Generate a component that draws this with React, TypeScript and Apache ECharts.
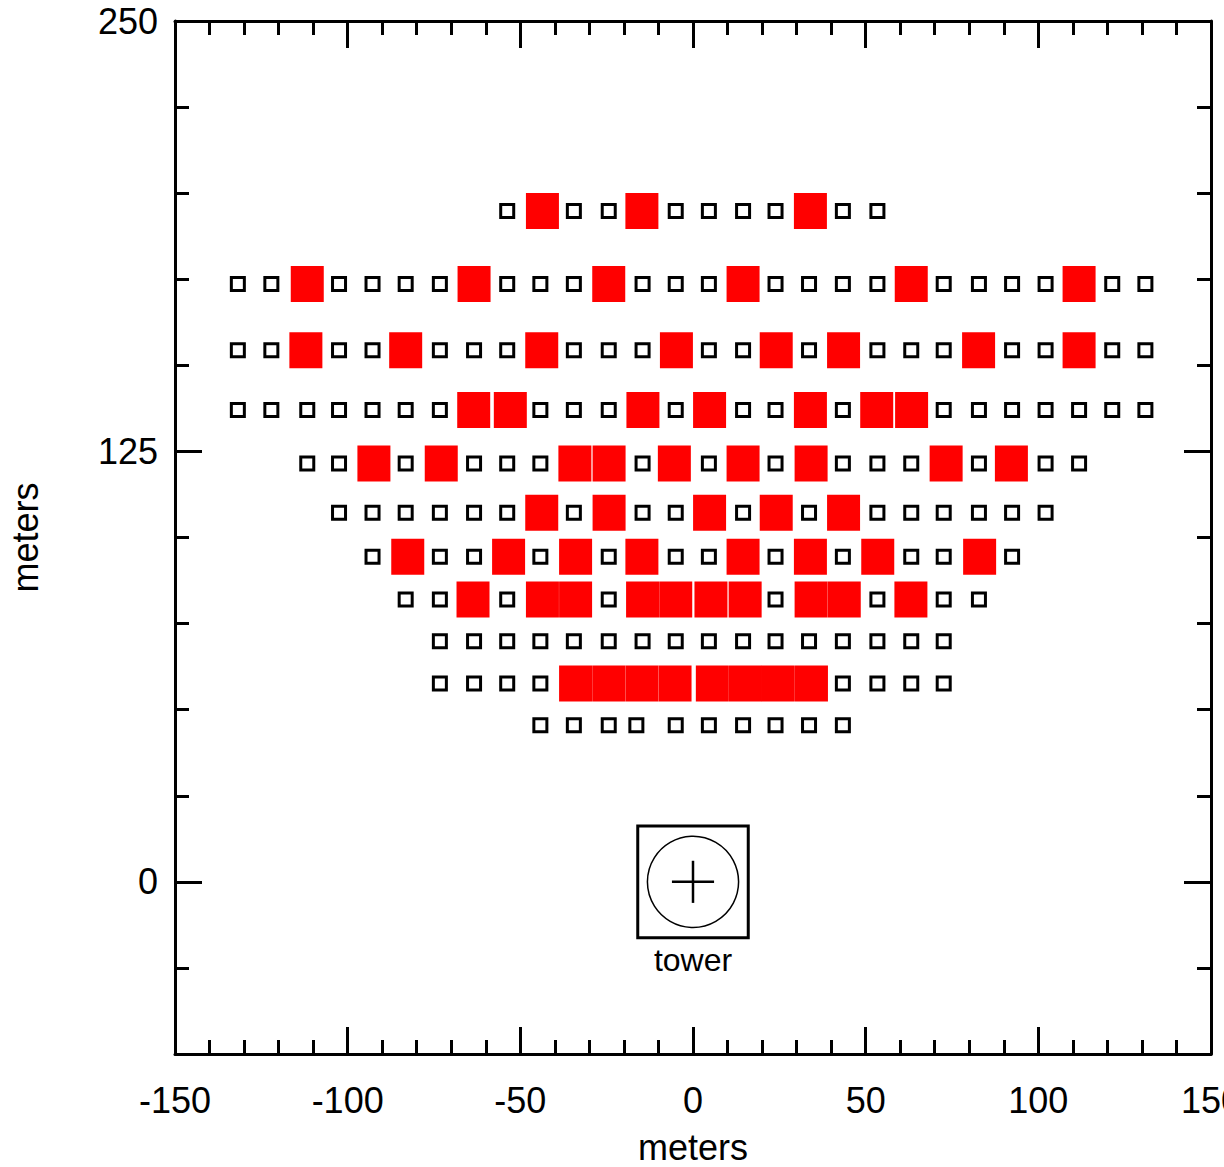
import { useEffect, useRef } from "react";
import * as echarts from "echarts";

// North distance of each heliostat row from the tower base (m)
const ROW_Y = [194.8, 173.6, 154.4, 137.0, 121.5, 107.2, 94.4, 82.0, 69.9, 57.6, 45.5];

// East-west positions (m) of heliostats that are idle, one list per row
const IDLE_X: number[][] = [
  [-53.8, -34.5, -24.4, -5.0, 4.6, 14.5, 23.9, 43.4, 53.4],
  [-131.8, -122.1, -102.5, -92.8, -83.2, -73.3, -53.8, -44.2, -34.5, -14.6, -5.0, 4.6, 23.9, 33.6, 43.4, 53.4, 72.6, 82.8, 92.4, 102.1, 121.4, 131.0],
  [-131.8, -122.1, -102.5, -92.8, -73.3, -63.4, -53.8, -34.5, -24.4, -14.6, 4.6, 14.5, 33.6, 53.4, 63.2, 72.6, 92.4, 102.1, 121.4, 131.0],
  [-131.8, -122.1, -111.7, -102.5, -92.8, -83.2, -73.3, -44.2, -34.5, -24.4, -5.0, 14.5, 23.9, 43.4, 72.6, 82.8, 92.4, 102.1, 111.8, 121.4, 131.0],
  [-111.7, -102.5, -83.2, -63.4, -53.8, -44.2, -14.6, 4.6, 23.9, 43.4, 53.4, 63.2, 82.8, 102.1, 111.8],
  [-102.5, -92.8, -83.2, -73.3, -63.4, -53.8, -34.5, -14.6, -5.0, 14.5, 33.6, 53.4, 63.2, 72.6, 82.8, 92.4, 102.1],
  [-92.8, -73.3, -63.4, -44.2, -24.4, -5.0, 4.6, 23.9, 43.4, 63.2, 72.6, 92.4],
  [-83.2, -73.3, -53.8, -24.4, 23.9, 53.4, 72.6, 82.8],
  [-73.3, -63.4, -53.8, -44.2, -34.5, -24.4, -14.6, -5.0, 4.6, 14.5, 23.9, 33.6, 43.4, 53.4, 63.2, 72.6],
  [-73.3, -63.4, -53.8, -44.2, 43.4, 53.4, 63.2, 72.6],
  [-44.2, -34.5, -24.4, -16.4, -5.0, 4.6, 14.5, 23.9, 33.6, 43.4],
];

// East-west positions (m) of heliostats that are in use, one list per row
const ACTIVE_X: number[][] = [
  [-43.6, -14.8, 34.0],
  [-111.7, -63.4, -24.4, 14.5, 63.2, 111.8],
  [-112.1, -83.2, -43.8, -4.8, 24.1, 43.6, 82.7, 111.8],
  [-63.5, -52.9, -14.5, 4.8, 34.0, 53.2, 63.3],
  [-92.4, -72.9, -34.2, -24.3, -5.4, 14.5, 34.2, 73.3, 92.2],
  [-43.8, -24.3, 4.8, 24.1, 43.6],
  [-82.6, -53.4, -34.0, -14.8, 14.5, 34.0, 53.5, 83.0],
  [-63.7, -43.6, -34.0, -14.6, -5.0, 5.2, 15.1, 34.2, 43.8, 63.1],
  [],
  [-34.0, -24.4, -14.8, -5.2, 5.6, 15.2, 24.7, 34.3],
  [],
];

// Tower: location and footprint (m)
const TOWER_POS = [0, 0];
const TOWER_BOX = [32, 32.5];
const TOWER_RING = 13.2;
const TOWER_CROSS = 6.1;
const TOWER_LABEL = "tower";

// Axis ticks and labels
const X_RANGE = [-150, 150];
const Y_RANGE = [-50, 250];
const Y_LABELS = [0, 125, 250];
const Y_MAJOR_TICKS = [0, 125];
const Y_MINOR_TICKS = [-25, 25, 50, 75, 100, 150, 175, 200, 225];

const FONT = "'Liberation Sans', Arial, Helvetica, sans-serif";
const INK = "#000";

function toPoints(rows: number[][]): number[][] {
  const pts: number[][] = [];
  rows.forEach((xs, i) => xs.forEach((x) => pts.push([x, ROW_Y[i]])));
  return pts;
}

export default function App() {
  const ref = useRef<HTMLDivElement>(null);

  useEffect(() => {
    if (!ref.current) return;
    const chart = echarts.init(ref.current, undefined, { renderer: "svg" });

    const lineStyle = { color: INK, width: 3 };
    const axisLine = { show: true, onZero: false, lineStyle };
    const noLine = { show: false, onZero: false };
    const labelStyle = { color: INK, fontFamily: FONT, fontSize: 36 };

    const xBase: any = {
      type: "value",
      min: X_RANGE[0],
      max: X_RANGE[1],
      interval: 50,
      splitLine: { show: false },
      minorSplitLine: { show: false },
      axisLine,
      axisTick: { show: true, inside: true, length: 27, lineStyle },
      minorTick: { show: true, splitNumber: 5, length: 14, lineStyle },
    };

    const yBase: any = {
      type: "value",
      min: Y_RANGE[0],
      max: Y_RANGE[1],
      splitLine: { show: false },
      axisLabel: { show: false },
    };

    const minorY = { show: true, inside: true, length: 14, customValues: Y_MINOR_TICKS, lineStyle };
    const majorY = { show: true, inside: true, length: 27, customValues: Y_MAJOR_TICKS, lineStyle };

    chart.setOption({
      animation: false,
      backgroundColor: "#fff",
      grid: {
        left: 175,
        right: 13,
        top: 21,
        bottom: 113,
        containLabel: false,
        outerBoundsMode: "none",
      },
      xAxis: [
        {
          ...xBase,
          position: "bottom",
          axisLabel: { show: true, margin: 28, ...labelStyle },
          name: "meters",
          nameLocation: "middle",
          nameGap: 75,
          nameTextStyle: labelStyle,
        },
        { ...xBase, position: "top", axisLabel: { show: false } },
      ],
      yAxis: [
        {
          ...yBase,
          position: "left",
          axisLine,
          axisTick: minorY,
          axisLabel: { show: true, customValues: Y_LABELS, margin: 17, ...labelStyle },
          name: "meters",
          nameLocation: "middle",
          nameGap: 132,
          nameTextStyle: labelStyle,
        },
        { ...yBase, position: "left", axisLine: noLine, axisTick: majorY },
        { ...yBase, position: "right", axisLine, axisTick: minorY },
        { ...yBase, position: "right", axisLine: noLine, axisTick: majorY },
      ],
      series: [
        {
          name: "idle",
          type: "scatter",
          data: toPoints(IDLE_X),
          symbol: "rect",
          symbolSize: 13,
          itemStyle: { color: "#fff", borderColor: INK, borderWidth: 3, opacity: 1 },
          silent: true,
        },
        {
          name: "active",
          type: "scatter",
          data: toPoints(ACTIVE_X),
          symbol: "rect",
          symbolSize: [33, 36],
          itemStyle: { color: "#ff0000", opacity: 1 },
          silent: true,
        },
        {
          name: "tower",
          type: "custom",
          data: [TOWER_POS],
          silent: true,
          renderItem: (_params: any, api: any) => {
            const c = api.coord([api.value(0), api.value(1)]);
            const box = api.size([TOWER_BOX[0], TOWER_BOX[1]]);
            const r = api.size([TOWER_RING, 0])[0];
            const h = api.size([TOWER_CROSS, 0])[0];
            return {
              type: "group",
              children: [
                {
                  type: "rect",
                  shape: { x: c[0] - box[0] / 2, y: c[1] - box[1] / 2, width: box[0], height: box[1] },
                  style: { fill: "none", stroke: INK, lineWidth: 3 },
                },
                {
                  type: "circle",
                  shape: { cx: c[0], cy: c[1], r },
                  style: { fill: "none", stroke: INK, lineWidth: 1.5 },
                },
                {
                  type: "line",
                  shape: { x1: c[0] - h, y1: c[1], x2: c[0] + h, y2: c[1] },
                  style: { stroke: INK, lineWidth: 2.5 },
                },
                {
                  type: "line",
                  shape: { x1: c[0], y1: c[1] - h, x2: c[0], y2: c[1] + h },
                  style: { stroke: INK, lineWidth: 2.5 },
                },
                {
                  type: "text",
                  x: c[0],
                  y: c[1] + box[1] / 2 + 22,
                  style: {
                    text: TOWER_LABEL,
                    fill: INK,
                    font: `32px ${FONT}`,
                    align: "center",
                    verticalAlign: "middle",
                  },
                },
              ],
            };
          },
        },
      ],
    });

    return () => chart.dispose();
  }, []);

  return (
    <div
      ref={ref}
      style={{ position: "fixed", left: 0, top: 0, width: 1224, height: 1167 }}
    />
  );
}
